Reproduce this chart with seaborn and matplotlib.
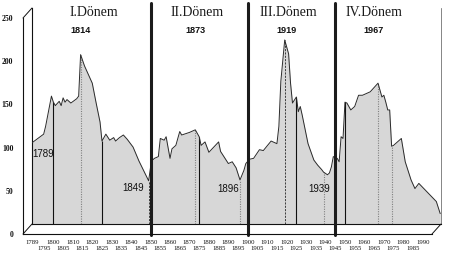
import numpy as np
import pandas as pd
import matplotlib
matplotlib.use("Agg")
import matplotlib.pyplot as plt
import matplotlib.transforms as mtrans
from matplotlib.lines import Line2D
import seaborn as sns

# ---------------- data ----------------
years = [1789, 1792, 1795, 1796, 1799, 1800, 1801, 1803, 1804, 1805, 1806, 1807, 1809,
         1812, 1813, 1814, 1816, 1817, 1820, 1822, 1824, 1825, 1826, 1827, 1829, 1831,
         1832, 1834, 1836, 1838, 1839, 1841, 1844, 1849, 1850, 1851, 1852, 1854, 1855,
         1857, 1858, 1860, 1861, 1863, 1865, 1866, 1870, 1873, 1875, 1876, 1878, 1880,
         1885, 1886, 1890, 1892, 1894, 1896, 1898, 1899, 1901, 1903, 1906, 1908, 1912,
         1913, 1915, 1916, 1917, 1919, 1921, 1922, 1923, 1925, 1926, 1927, 1928, 1931,
         1934, 1936, 1938, 1939, 1941, 1942, 1943, 1944, 1946, 1947, 1948, 1949, 1950,
         1951, 1953, 1955, 1957, 1959, 1963, 1967, 1969, 1970, 1971, 1972, 1973, 1974,
         1975, 1979, 1981, 1984, 1986, 1988, 1997, 1999]
index_values = [94, 99, 104, 113, 148, 141, 137, 142, 137, 146, 141, 144, 140,
                145, 148, 196, 183, 178, 163, 140, 118, 96, 100, 104, 97, 100,
                96, 100, 103, 98, 95, 89, 73, 50, 66, 74, 76, 78, 99,
                97, 101, 76, 87, 91, 107, 103, 106, 109, 101, 91, 95, 83,
                95, 84, 70, 72, 65, 51, 62, 70, 75, 76, 86, 85, 96,
                95, 93, 113, 165, 213, 197, 163, 140, 147, 130, 136, 126, 93,
                74, 68, 63, 60, 57, 59, 66, 78, 76, 72, 101, 99, 141,
                140, 132, 136, 149, 149, 153, 163, 147, 149, 141, 132, 132, 90,
                91, 99, 72, 51, 41, 47, 26, 12]

period_titles = ["I.Dönem", "II.Dönem", "III.Dönem", "IV.Dönem"]
peak_labels = ["1814", "1873", "1919", "1967"]
trough_labels = ["1789", "1849", "1896", "1939"]
period_breaks = [1850, 1900, 1945]
quarter_lines = [1800, 1825, 1875, 1925, 1950]
dotted_lines = [1814, 1873, 1896, 1939, 1967, 1974]
dashed_lines = [1849, 1919]
xtick_top = [1789] + list(range(1800, 1991, 10))
xtick_bottom = list(range(1795, 1986, 10))
yticks = [0, 50, 100, 150, 200, 250]

# ---------------- layout (positions) ----------------
title_x = [1821, 1874, 1921, 1965]
peak_label_x = [1814, 1873, 1920, 1964.5]
trough_label_xy = [(1794.7, 81), (1841.2, 42), (1889.8, 41), (1936.6, 41)]

sns.set_style("white")
plt.rcParams["font.family"] = ["Liberation Serif", "DejaVu Serif"]

W, H = 449, 259
fig = plt.figure(figsize=(W / 100, H / 100), dpi=100)


def rect(l, t, r, b):
    return [l / W, 1 - b / H, (r - l) / W, (b - t) / H]


ax = fig.add_axes(rect(32, 8, 441, 224))      # back wall
axf = fig.add_axes(rect(23, 18, 432, 234))    # front axis frame
axf.patch.set_alpha(0)

xlim = (1789, 1999.4)
for a in (ax, axf):
    a.set_xlim(*xlim)
    a.set_ylim(0, 250)

df = pd.DataFrame({"year": years, "value": index_values})
ax.fill_between(df["year"], 0, df["value"], color="#d7d7d7", lw=0, zorder=1)
sns.lineplot(data=df, x="year", y="value", ax=ax, color="#2a2a2a", lw=0.7, zorder=3)
ax.set_xlabel("")
ax.set_ylabel("")

for yr in quarter_lines:
    ax.vlines(yr, 0, np.interp(yr, years, index_values), color="#111111", lw=0.8, zorder=2)
for yr in dotted_lines:
    ax.vlines(yr, 0, np.interp(yr, years, index_values), color="#808080", lw=0.8,
              linestyles=[(0, (1, 1.2))], zorder=2)
for yr in dashed_lines:
    ax.vlines(yr, 0, np.interp(yr, years, index_values), color="#222222", lw=0.6,
              linestyles=[(0, (2.5, 1.5))], zorder=2)

for yr in period_breaks:
    ax.axvline(yr, ymin=-0.05, ymax=1.023, color="#1c1c1c", lw=2.2, clip_on=False, zorder=5)

blend = mtrans.blended_transform_factory(ax.transData, ax.transAxes)
for x, t in zip(title_x, period_titles):
    ax.text(x, 0.981, t, transform=blend, ha="center", va="center", fontsize=10,
            family=["Liberation Serif", "DejaVu Serif"], color="#1a1a1a")
for x, t in zip(peak_label_x, peak_labels):
    ax.text(x, 0.898, t, transform=blend, ha="center", va="center", fontsize=6.5,
            fontweight="bold", family=["Liberation Sans", "DejaVu Sans"], color="#111111")
for (x, y), t in zip(trough_label_xy, trough_labels):
    ax.text(x, y, t, ha="center", va="center", fontsize=7,
            family=["Liberation Sans", "DejaVu Sans"], color="#111111", zorder=6)

# back wall ticks / labels
ax.set_yticks([])
ax.set_xticks(xtick_top)
ax.set_xticklabels([str(v) for v in xtick_top])
ax.set_xticks(xtick_bottom, minor=True)
ax.set_xticklabels([str(v) for v in xtick_bottom], minor=True)
ax.tick_params(axis="x", which="major", length=0, pad=11.3, labelsize=4.8, labelcolor="#111111")
ax.tick_params(axis="x", which="minor", length=0, pad=15.8, labelsize=4.8, labelcolor="#111111")
ax.spines["top"].set_visible(False)
for s in ("left", "bottom"):
    ax.spines[s].set_color("#111111")
    ax.spines[s].set_linewidth(0.8)
ax.spines["right"].set_color("#555555")
ax.spines["right"].set_linewidth(0.5)

# front frame
axf.set_xticks(sorted(xtick_top + xtick_bottom))
axf.set_xticklabels([])
axf.set_yticks(yticks)
axf.set_yticklabels([str(v) for v in yticks], fontweight="bold")
axf.tick_params(axis="x", direction="in", length=3, width=0.6, color="#111111")
axf.tick_params(axis="y", direction="in", length=3, width=0.6, color="#111111",
                pad=7, labelsize=5.6, labelcolor="#111111")
axf.spines["top"].set_visible(False)
axf.spines["right"].set_visible(False)
for s in ("left", "bottom"):
    axf.spines[s].set_color("#111111")
    axf.spines[s].set_linewidth(0.8)

# 3-D frame connectors
pb = ax.get_position()
pf = axf.get_position()
for (x0, y0, x1, y1) in [(pf.x0, pf.y1, pb.x0, pb.y1),
                         (pf.x0, pf.y0, pb.x0, pb.y0),
                         (pf.x1, pf.y0, pb.x1, pb.y0)]:
    fig.add_artist(Line2D([x0, x1], [y0, y1], transform=fig.transFigure,
                          color="#111111", lw=0.7))

fig.savefig("out.png", dpi=100)
